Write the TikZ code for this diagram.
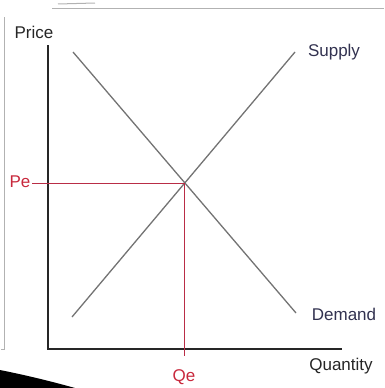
\documentclass[tikz,border=0pt]{standalone}
\usepackage{fontspec}
\setmainfont{Liberation Sans}
\begin{document}
\begin{tikzpicture}[x=1pt,y=-1pt,
  lbl/.style={font=\fontsize{17}{17}\selectfont, inner sep=0pt, text=black!85},
  curvelbl/.style={lbl, text={rgb,255:red,50;green,50;blue,80}},
  redlbl/.style={lbl, text={rgb,255:red,200;green,40;blue,60}},
  axisline/.style={line width=1.8pt, draw=black!85},
  curveline/.style={line width=1.3pt, draw=black!55},
  guide/.style={line width=1.1pt, draw={rgb,255:red,185;green,45;blue,70}},
  frame/.style={line width=1pt, draw=black!30}]
\useasboundingbox (0,0) rectangle (384,388);
% page frame artefacts
\draw[frame] (52,8) -- (384,8);
\draw[frame] (58,4) -- (95,3);
\draw[frame] (4,17) -- (4,349) -- (1,349);
\fill[black] (0,370) .. controls (25,375) and (50,381) .. (75,388) -- (0,388) -- cycle;
% axes
\coordinate (O) at (48,349);
\coordinate (ytop) at (48,45);
\coordinate (xend) at (342,349);
\draw[axisline] (ytop) -- (O) -- (xend);
% curves
\coordinate (d1) at (73,52);
\coordinate (d2) at (296,313);
\coordinate (s1) at (72,317);
\coordinate (s2) at (295,52);
\draw[curveline] (d1) -- (d2);
\draw[curveline] (s1) -- (s2);
\coordinate (E) at (184.5,183.5);
% labels
\node[lbl] (price) at (34,32) {Price};
\node[curvelbl] (supply) at (334,52) {Supply};
\node[curvelbl] (demand) at (344,314) {Demand};
\node[lbl] (quantity) at (341,366) {Quantity};
\node[redlbl] (pe) at (20,182) {Pe};
\node[redlbl] (qe) at (184,377) {Qe};
% guides
\coordinate (pestart) at (32,183.5);
\coordinate (qeend) at (184.5,356);
\draw[guide] (pestart) -- (E) -- (qeend);
\end{tikzpicture}
\end{document}
